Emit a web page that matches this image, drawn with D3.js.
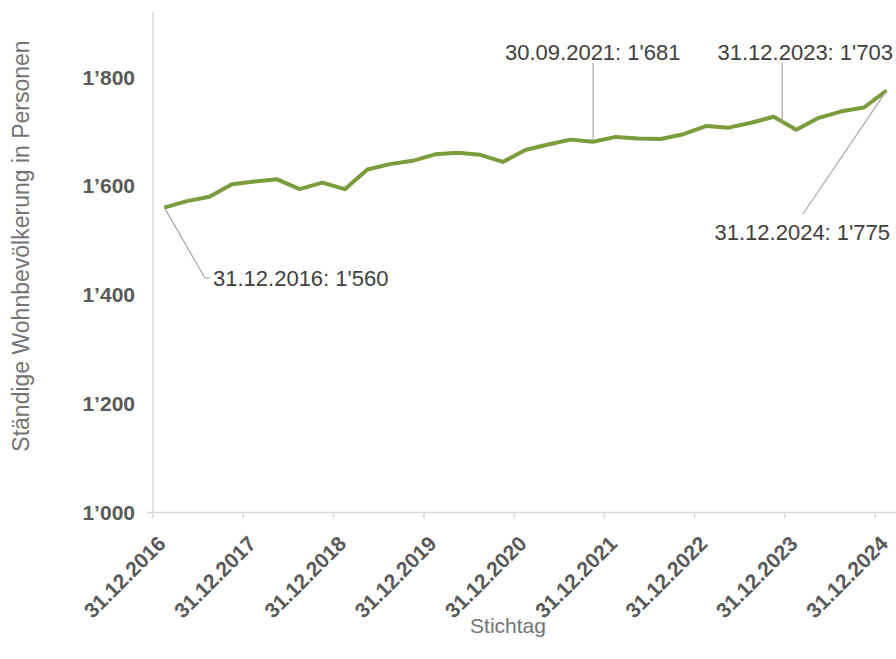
<!DOCTYPE html>
<html>
<head>
<meta charset="utf-8">
<script src="https://cdn.jsdelivr.net/npm/d3@7"></script>
<style>
  body { margin: 0; background: #fff; }
  text { font-family: "Liberation Sans", Arial, sans-serif; }
</style>
</head>
<body>
<div id="canvas"></div>
<script>
"use strict"

let svgWidth = 896;
let svgHeight = 659;

/* Quarterly dates (Stichtag) */
let dates = [
    "31.12.2016", "31.03.2017", "30.06.2017", "30.09.2017",
    "31.12.2017", "31.03.2018", "30.06.2018", "30.09.2018",
    "31.12.2018", "31.03.2019", "30.06.2019", "30.09.2019",
    "31.12.2019", "31.03.2020", "30.06.2020", "30.09.2020",
    "31.12.2020", "31.03.2021", "30.06.2021", "30.09.2021",
    "31.12.2021", "31.03.2022", "30.06.2022", "30.09.2022",
    "31.12.2022", "31.03.2023", "30.06.2023", "30.09.2023",
    "31.12.2023", "31.03.2024", "30.06.2024", "30.09.2024",
    "31.12.2024"
];

/* Ständige Wohnbevölkerung */
let population = [
    1560, 1572, 1580, 1603,
    1608, 1612, 1594, 1606,
    1594, 1630, 1640, 1646,
    1658, 1661, 1657, 1644,
    1666, 1676, 1685, 1681,
    1690, 1687, 1686, 1695,
    1710, 1707, 1716, 1727,
    1703, 1725, 1737, 1744,
    1775
];

let xTickLabels = ["31.12.2016", "31.12.2017", "31.12.2018", "31.12.2019", "31.12.2020",
                   "31.12.2021", "31.12.2022", "31.12.2023", "31.12.2024"];
let yTicks = [1000, 1200, 1400, 1600, 1800];

/* annotated points */
let callouts = ["31.12.2016", "30.09.2021", "31.12.2023", "31.12.2024"];

let dataset = dates.map((d, i) => ({date: d, value: population[i]}));

let svg = d3.select("#canvas")
    .append("svg")
    .attr("width", svgWidth)
    .attr("height", svgHeight);

/* Scales */
let xScale = d3.scaleBand()
    .domain(dates)
    .range([153, 153 + 33 * 22.57])
    .padding(0);

let yScale = d3.scaleLinear()
    .domain([1000, 1920])
    .range([512.5, 11.7]);

let xMid = d => xScale(d) + xScale.bandwidth() / 2;

let fmt = v => d3.format(",")(v).replace(",", "\u2019");

/* axis lines */
svg.append("line")
   .attr("x1", 147)
   .attr("x2", svgWidth)
   .attr("y1", yScale(1000))
   .attr("y2", yScale(1000))
   .attr("stroke", "#d9d9d9")
   .attr("stroke-width", 1.5);

svg.append("line")
   .attr("x1", 153)
   .attr("x2", 153)
   .attr("y1", yScale(1000))
   .attr("y2", yScale(1920))
   .attr("stroke", "#d9d9d9")
   .attr("stroke-width", 1.5);

/* x ticks */
xTickLabels.forEach(function(lab){
    let x = xScale(lab);
    svg.append("line")
       .attr("x1", x).attr("x2", x)
       .attr("y1", yScale(1000))
       .attr("y2", yScale(1000) + 6)
       .attr("stroke", "#d9d9d9")
       .attr("stroke-width", 1.5);

    svg.append("text")
       .attr("transform", "translate(" + (x + 14) + "," + 545 + ") rotate(-45)")
       .attr("text-anchor", "end")
       .attr("font-size", 21)
       .attr("font-weight", "bold")
       .attr("fill", "#595959")
       .text(lab);
});

/* y tick labels */
yTicks.forEach(function(v){
    svg.append("text")
       .attr("x", 135)
       .attr("y", yScale(v))
       .attr("dy", "0.36em")
       .attr("text-anchor", "end")
       .attr("font-size", 21)
       .attr("font-weight", "bold")
       .attr("fill", "#595959")
       .text(fmt(v));
});

/* axis titles */
svg.append("text")
   .attr("transform", "rotate(-90)")
   .attr("x", -246)
   .attr("y", 29)
   .attr("text-anchor", "middle")
   .attr("font-size", 23)
   .attr("fill", "#737373")
   .text("Ständige Wohnbevölkerung in Personen");

svg.append("text")
   .attr("x", 508)
   .attr("y", 633)
   .attr("text-anchor", "middle")
   .attr("font-size", 21)
   .attr("fill", "#737373")
   .text("Stichtag");

/* data line */
let line = d3.line()
    .x(d => xMid(d.date))
    .y(d => yScale(d.value));

svg.append("path")
   .datum(dataset)
   .attr("d", line)
   .attr("fill", "none")
   .attr("stroke", "#7b9c3c")
   .attr("stroke-width", 4)
   .attr("stroke-linejoin", "round");

/* callouts */
let pt = {};
dataset.forEach(d => { if (callouts.includes(d.date)) pt[d.date] = d; });
let label = d => d.date + ": " + d3.format(",")(d.value).replace(",", "'");

function leader(points){
    svg.append("path")
       .attr("d", d3.line()(points))
       .attr("fill", "none")
       .attr("stroke", "#a6a6a6")
       .attr("stroke-width", 1.2);
}
function note(text, x, y, anchor){
    svg.append("text")
       .attr("x", x)
       .attr("y", y)
       .attr("text-anchor", anchor || "start")
       .attr("font-size", 22)
       .attr("fill", "#404040")
       .text(text);
}

let a = pt["31.12.2016"];
leader([[xMid(a.date), yScale(a.value)], [205, 278], [210, 278]]);
note(label(a), 213, 286);

let b = pt["30.09.2021"];
leader([[xMid(b.date), yScale(b.value) - 2], [xMid(b.date), 63]]);
note(label(b), 505, 60);

let c = pt["31.12.2023"];
leader([[xMid(c.date) - 14, yScale(c.value) - 8], [xMid(c.date) - 14, 63]]);
note(label(c), 893, 60, "end");

let e = pt["31.12.2024"];
leader([[xMid(e.date), yScale(e.value)], [803, 214]]);
note(label(e), 890, 240, "end");
</script>
</body>
</html>
